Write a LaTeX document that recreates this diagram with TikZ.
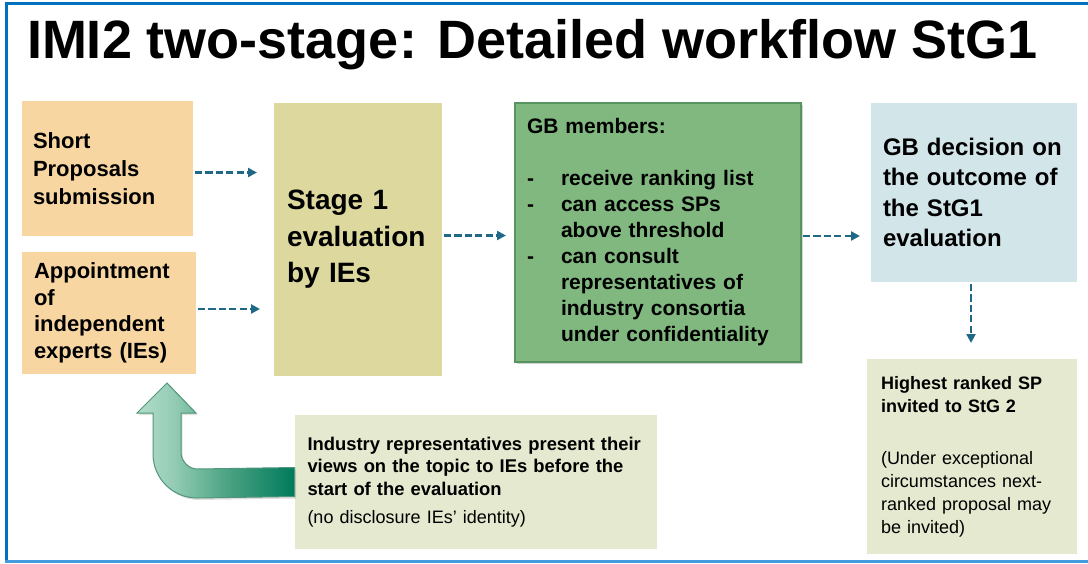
\documentclass[tikz,border=0pt]{standalone}
\usepackage{fontspec}
\setmainfont{Liberation Sans}
\usepackage{tikz}
\usetikzlibrary{arrows,arrows.meta,shapes,calc,positioning,shadows}
\definecolor{peach}{RGB}{247,214,162}
\definecolor{khaki}{RGB}{221,216,158}
\definecolor{gbgreen}{RGB}{128,184,128}
\definecolor{gbline}{RGB}{88,148,96}
\definecolor{paleblue}{RGB}{210,229,233}
\definecolor{paleolive}{RGB}{229,233,207}
\definecolor{arrowteal}{RGB}{31,105,135}
\definecolor{framedark}{RGB}{0,112,192}
\definecolor{framelight}{RGB}{65,155,220}
\definecolor{mintL}{RGB}{178,221,203}
\definecolor{mintM}{RGB}{150,205,182}
\definecolor{tealM}{RGB}{70,160,128}
\definecolor{tealD}{RGB}{0,122,92}
\definecolor{bendline}{RGB}{80,150,122}
\pgfdeclarehorizontalshading{bendshade}{100bp}{color(0bp)=(mintL); color(25bp)=(mintL);
    color(36bp)=(mintM); color(55bp)=(tealM); color(75bp)=(tealD); color(100bp)=(tealD)}
\tikzstyle{edge}  =[draw=arrowteal, line width=1.4pt, dash pattern=on 3.6pt off 1.6pt,
                    shorten <=1pt, -{Triangle[length=4.5pt,width=4.5pt]}]
\tikzstyle{frame} =[line width=1.5pt]

\begin{document}
\begin{tikzpicture}[x=0.5pt, y=-0.5pt, every node/.style = {rectangle, inner sep=0pt,
        outer sep=0pt, align=left, font=\bfseries}]
    \useasboundingbox (0,0) rectangle (1088,563);
    \node (title) [anchor=base west, font=\bfseries\fontsize{27}{27}\selectfont] at (27,58)
        {IMI2 two-stage: Detailed workflow StG1};
    % left column
    \node (short) [fill=peach, text width=74.5pt, inner xsep=5.5pt, minimum height=67.5pt,
        font=\bfseries\fontsize{11}{14}\selectfont] at (107.5,168.5)
        {Short\\Proposals\\submission};
    \node (appoint) [fill=peach, text width=75pt, inner xsep=6pt, minimum height=61pt,
        font=\bfseries\fontsize{11}{13.3}\selectfont] at (109,313)
        {Appointment\\of\\independent\\experts (IEs)};
    \node (stage) [fill=khaki, text width=71pt, inner xsep=6.5pt, minimum height=136.5pt,
        font=\bfseries\fontsize{14}{18.25}\selectfont] at (358,239.5)
        {Stage 1\\evaluation\\by IEs};
    % GB
    \node (gb) [fill=gbgreen, draw=gbline, line width=0.6pt, text width=131pt, inner xsep=6pt,
        minimum height=129.5pt, drop shadow={shadow xshift=1pt, shadow yshift=-1pt, opacity=0.35},
        font=\bfseries\fontsize{10.5}{13}\selectfont] at (658,232.5)
        {GB members:\\[13pt]
         \makebox[17pt][l]{-}receive ranking list\\
         \makebox[17pt][l]{-}can access SPs\\
         \hspace*{17pt}above threshold\\
         \makebox[17pt][l]{-}can consult\\
         \hspace*{17pt}representatives of\\
         \hspace*{17pt}industry consortia\\
         \hspace*{17pt}under confidentiality};
    \node (decision) [fill=paleblue, text width=91pt, inner xsep=6pt, minimum height=89.5pt,
        font=\bfseries\fontsize{12}{15.3}\selectfont] at (974,192.5)
        {GB decision on\\the outcome of\\the StG1\\evaluation};
    \node (highest) [fill=paleolive, text width=91pt, inner xsep=7pt, minimum height=97.5pt,
        font=\bfseries\fontsize{9}{11.5}\selectfont] at (972,456.5)
        {Highest ranked SP\\invited to StG 2\\[14.5pt]
         \mdseries(Under exceptional\\circumstances next-\\ranked proposal may\\be invited)};
    \node (industry) [fill=paleolive, text width=168pt, inner xsep=6.5pt, minimum height=67pt,
        font=\bfseries\fontsize{9.2}{11.25}\selectfont] at (475.5,482)
        {Industry representatives present their\\views on the topic to IEs before the\\start of the evaluation\\[3pt]
         \mdseries\fontsize{9}{11.25}\selectfont(no disclosure IEs' identity)};
    % dashed flow
    \draw[edge, shorten >=8.5pt] ([yshift=-2pt]short.east) -- ([yshift=-2pt]short.east -| stage.west);
    \draw[edge, shorten >=7pt] ([yshift=2pt]appoint.east) -- ([yshift=2pt]appoint.east -| stage.west);
    \draw[edge, shorten >=4.5pt] ([yshift=2pt]stage.east) -- ([yshift=2pt]stage.east -| gb.west);
    \draw[edge, shorten >=5.5pt] ([yshift=-1.75pt]gb.east) -- ([yshift=-1.75pt]gb.east -| decision.west);
    \draw[edge, shorten >=8pt] ([xshift=-1.5pt]decision.south) -- ([xshift=-1.5pt]decision.south |- highest.north);
    % bent arrow back to the experts
    \shadedraw[shading=bendshade, draw=bendline, line width=0.5pt,
        drop shadow={shadow xshift=0.8pt, shadow yshift=-1pt, opacity=0.25}]
        ([yshift=7.25pt]industry.west) -- (197,469)
        .. controls (188.2,469) and (181,460.2) .. (181,453) -- (181,413) -- (196,413)
        -- (167,383) -- (137,413) -- (153,413) -- (153,454)
        .. controls (153,478.3) and (172.7,498) .. (197,498)
        -- ([yshift=-7.25pt]industry.west) -- cycle;
    % frame
    \draw[frame, framedark] (5,3.5) -- (1088,3.5);
    \draw[frame, framedark] (6.5,2) -- (6.5,562);
    \draw[frame, framelight] (5,561) -- (1088,561);
\end{tikzpicture}
\end{document}
